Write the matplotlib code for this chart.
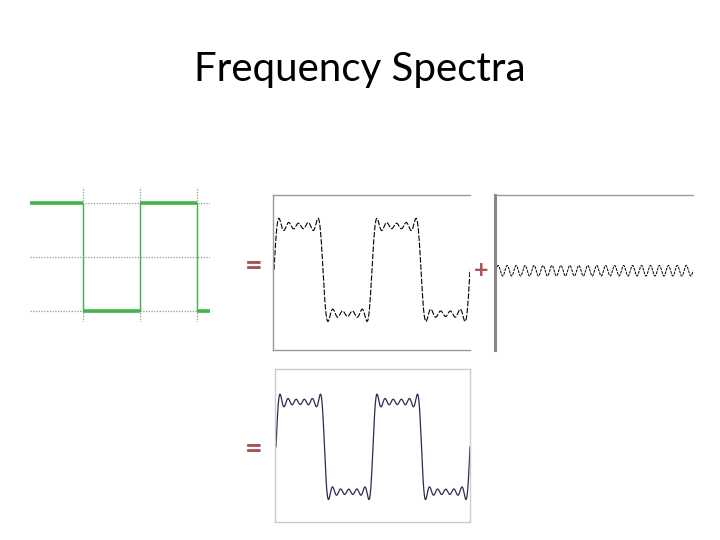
import numpy as np
import matplotlib
matplotlib.use('Agg')
import matplotlib.pyplot as plt

# Square wave (green panel): edge positions in half-periods and levels
square_x = [0.07, 1, 1, 2, 2, 3, 3, 3.23]
square_y = [1, 1, -1, -1, 1, 1, -1, -1]

# Odd harmonics and their amplitudes (the spectrum)
harmonics = [1, 3, 5, 7, 9, 11]
amplitudes = [1.27, 0.42, 0.25, 0.18, 0.14, 0.12]

t = np.linspace(0, 2, 1200)
def partial_sum(n_terms):
    y = np.zeros_like(t)
    for n, a in zip(harmonics[:n_terms], amplitudes[:n_terms]):
        y += a * np.sin(2 * np.pi * n * t)
    return y

W, H = 720, 540
fig = plt.figure(figsize=(7.2, 5.4), dpi=100)

def add_ax(x0, y0, x1, y1):
    return fig.add_axes([x0 / W, 1 - y1 / H, (x1 - x0) / W, (y1 - y0) / H])

fig.text(360 / W, 1 - 69 / H, 'Frequency Spectra', ha='center', va='center',
         fontsize=29, family='Lato')

# Panel 1: square wave with dotted grid
ax1 = add_ax(30, 187, 210, 322)
green = '#44b44a'
ax1.plot(square_x, square_y, color=green, lw=1.0)
# flat parts drawn heavier, as in the original
for i in range(0, len(square_x), 2):
    ax1.plot(square_x[i:i + 2], square_y[i:i + 2], color=green, lw=2.6,
             solid_capstyle='butt')
for yv in [1, 0, -1]:
    ax1.axhline(yv, color='#999999', lw=0.9, ls=(0, (1, 1.2)), zorder=0)
for xv in [1, 2, 3]:
    ax1.axvline(xv, color='#999999', lw=0.9, ls=(0, (1, 1.2)), zorder=0)
ax1.set_xlim(0.07, 3.23)
ax1.set_ylim(-1.21, 1.3)
ax1.axis('off')

# Panel 2: sum up to 9th harmonic
ax2 = add_ax(273, 195, 470, 350)
ax2.plot(t, partial_sum(5), color='black', lw=0.8, ls=(0, (5, 1.5)))
ax2.set_xlim(-0.01, 2.0)
ax2.set_ylim(-1.82, 1.7)

# Panel 3: 11th harmonic alone
ax3 = add_ax(495, 195, 693, 350)
ax3.plot(t, amplitudes[5] * np.sin(2 * np.pi * harmonics[5] * t),
         color='black', lw=0.7, ls=(0, (3, 1)))
ax3.set_xlim(-0.01, 2.0)
ax3.set_ylim(-1.8, 1.72)

# Panel 4: sum up to 11th harmonic
ax4 = add_ax(275, 369, 470, 522)
ax4.plot(t, partial_sum(6), color='#2b2b55', lw=0.9)
ax4.set_xlim(-0.01, 2.0)
ax4.set_ylim(-1.67, 1.73)

for ax in [ax2, ax3, ax4]:
    ax.set_xticks([])
    ax.set_yticks([])
    for s in ax.spines.values():
        s.set_color('#999999')
        s.set_linewidth(1)

ax2.spines['right'].set_visible(False)
ax3.spines['right'].set_visible(False)
ax3.spines['bottom'].set_visible(False)
ax3.spines['left'].set_linewidth(2.2)
ax3.spines['left'].set_color('#888888')
for s in ax4.spines.values():
    s.set_color('#cccccc')

# Operators
op_color = '#a85555'
fig.text(254 / W, 1 - 266 / H, '=', ha='center', va='center', fontsize=22,
         color=op_color, family='Lato', fontweight='bold')
fig.text(254 / W, 1 - 449 / H, '=', ha='center', va='center', fontsize=22,
         color=op_color, family='Lato', fontweight='bold')
fig.text(481 / W, 1 - 271 / H, '+', ha='center', va='center', fontsize=18,
         color=op_color, family='Lato', fontweight='bold')

fig.savefig('out.png', dpi=100)
